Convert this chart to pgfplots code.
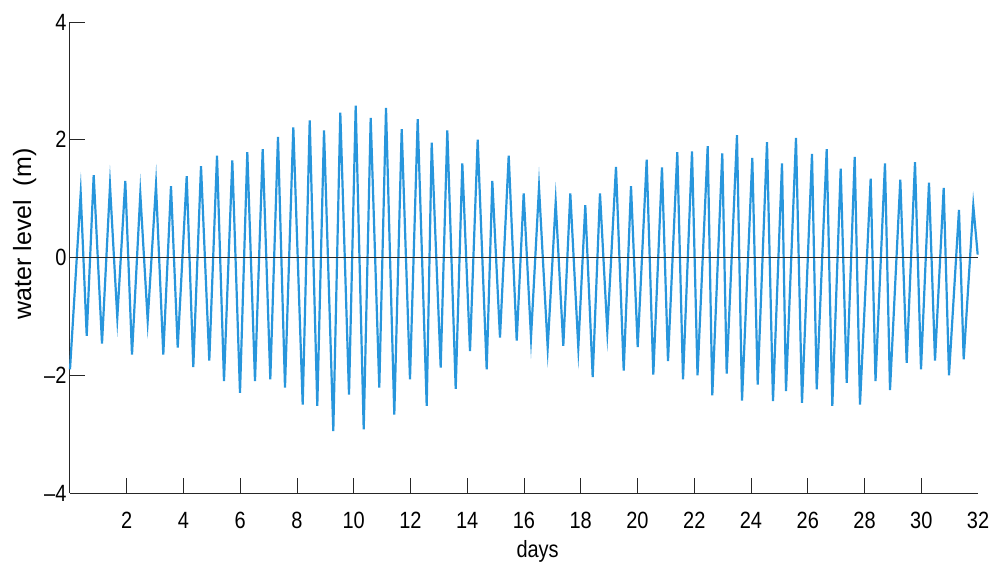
\documentclass[border=0pt]{standalone}
\usepackage{pgfplots}
\pgfplotsset{compat=1.18}
\usepackage{fontspec}
\setmainfont{Liberation Sans}
\newfontfamily\condfont[FakeStretch=0.85]{Liberation Sans}
\definecolor{tide}{RGB}{40,150,220}
\begin{document}
\begin{tikzpicture}
\useasboundingbox (-70pt,-73pt) rectangle (919pt,493pt);
\begin{axis}[
  at={(0pt,0pt)}, anchor=south west,
  scale only axis, width=908pt, height=471pt,
  xmin=0, xmax=32, ymin=-4, ymax=4,
  axis lines*=left,
  axis line style={black!85, line width=1pt},
  tick align=inside, major tick length=15pt,
  tick style={black!85, line width=1pt},
  xtick={2,4,...,30},
  xticklabels={2,4,6,8,10,12,14,16,18,20,22,24,26,28,30},
  extra x ticks={32}, extra x tick labels={32},
  extra x tick style={major tick length=0pt},
  ytick={-4,-2,0,2,4},
  yticklabels={\textendash4,\textendash2,0,2,4},
  ticklabel style={font=\fontsize{23.5}{26}\condfont},
  xticklabel style={yshift=-16pt},
  xlabel={days},
  ylabel={water level\ \ (m)},
  xlabel style={at={(axis description cs:0.515,0)}, anchor=center, yshift=-58pt, font=\fontsize{23.5}{26}\condfont},
  ylabel style={at={(axis description cs:-0.05,0.55)}, anchor=center, font=\fontsize{25}{28}\selectfont},
  clip=false,
]
\addplot[tide, line width=2.2pt, line join=miter, miter limit=20] coordinates {
(0,-1.9) (0.377,1.09) (0.589,-1.33) (0.835,1.40) (1.128,-1.46) (1.410,1.22) (1.667,-1.02) (1.949,1.30)
(2.185,-1.65) (2.478,1.08) (2.738,-1.07) (3.031,1.23) (3.288,-1.65) (3.559,1.21) (3.796,-1.53) (4.113,1.38)
(4.345,-1.86) (4.617,1.55) (4.909,-1.75) (5.181,1.73) (5.427,-2.10) (5.720,1.65) (5.991,-2.30) (6.249,1.79)
(6.520,-2.10) (6.791,1.84) (7.059,-2.07) (7.330,2.05) (7.577,-2.21) (7.870,2.21) (8.201,-2.50) (8.448,2.33)
(8.715,-2.52) (8.952,2.16) (9.279,-2.95) (9.526,2.46) (9.833,-2.33) (10.069,2.58) (10.351,-2.92) (10.597,2.37)
(10.900,-2.21) (11.137,2.54) (11.429,-2.67) (11.690,2.18) (11.982,-2.07) (12.254,2.35) (12.571,-2.52) (12.747,1.95)
(13.064,-1.87) (13.297,2.16) (13.593,-2.23) (13.826,1.60) (14.097,-1.59) (14.368,2.00) (14.685,-1.90) (14.883,1.30)
(15.154,-1.36) (15.461,1.73) (15.743,-1.41) (15.989,1.09) (16.247,-1.36) (16.529,1.19) (16.835,-1.53) (17.117,0.94)
(17.385,-1.50) (17.632,1.09) (17.914,-1.53) (18.160,0.89) (18.421,-2.03) (18.678,1.09) (18.936,-1.25) (19.242,1.54)
(19.514,-1.92) (19.771,1.21) (20.007,-1.52) (20.324,1.66) (20.557,-1.99) (20.863,1.53) (21.075,-1.76) (21.403,1.79)
(21.604,-2.07) (21.921,1.80) (22.115,-2.00) (22.474,1.89) (22.636,-2.34) (22.988,1.77) (23.143,-1.97) (23.506,2.08)
(23.683,-2.43) (24.046,1.69) (24.236,-2.16) (24.564,1.96) (24.775,-2.44) (25.093,1.60) (25.233,-2.27) (25.586,2.03)
(25.797,-2.47) (26.150,1.76) (26.316,-2.24) (26.668,1.84) (26.866,-2.52) (27.161,1.51) (27.373,-2.13) (27.655,1.71)
(27.841,-2.50) (28.218,1.34) (28.388,-2.10) (28.722,1.60) (28.899,-2.25) (29.262,1.32) (29.487,-1.79) (29.780,1.62)
(29.991,-1.90) (30.273,1.27) (30.485,-1.75) (30.791,1.18) (30.978,-2.00) (31.330,0.81) (31.496,-1.73) (31.834,0.88)
(31.989,0.05)
};
\addplot[black!85, line width=1.1pt] coordinates {(0,0) (32,0)};
\end{axis}
\end{tikzpicture}
\end{document}
